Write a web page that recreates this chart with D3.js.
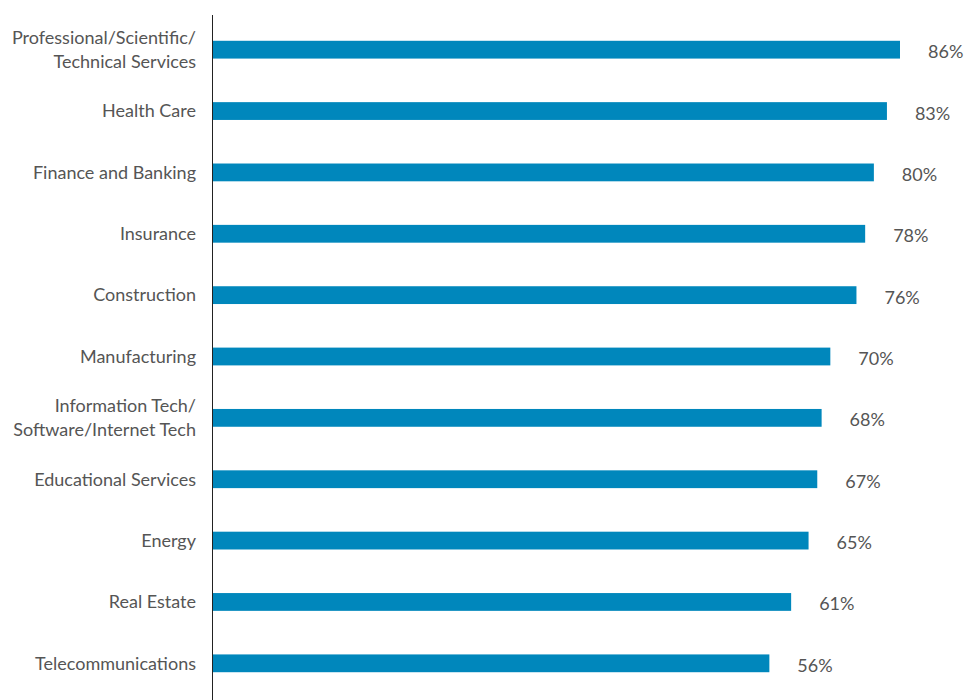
<!DOCTYPE html>
<html>
<head>
<meta charset="utf-8">
<script src="https://cdn.jsdelivr.net/npm/d3@7"></script>
<style>
  html, body { margin: 0; padding: 0; background: #fff; }
  svg { display: block; }
  text { font-family: Lato, "Open Sans", sans-serif; fill: #555; }
</style>
</head>
<body>
<svg id="chart" width="966" height="700"></svg>
<script>
// Share of respondents by industry
const industries = [
  ["Professional/Scientific/", "Technical Services"],
  ["Health Care"],
  ["Finance and Banking"],
  ["Insurance"],
  ["Construction"],
  ["Manufacturing"],
  ["Information Tech/", "Software/Internet Tech"],
  ["Educational Services"],
  ["Energy"],
  ["Real Estate"],
  ["Telecommunications"]
];
const shares = [86, 83, 80, 78, 76, 70, 68, 67, 65, 61, 56];
const valueLabels = ["86%", "83%", "80%", "78%", "76%", "70%", "68%", "67%", "65%", "61%", "56%"];

const svg = d3.select("#chart");
const axisX = 212;

const x = d3.scaleLinear().domain([-72, 86]).range([axisX, 900]);
const y = d3.scaleBand()
  .domain(d3.range(industries.length))
  .range([19, 694])
  .paddingInner(0.71)
  .paddingOuter(0.355);

// bars
svg.append("g").selectAll("rect")
  .data(shares)
  .join("rect")
  .attr("x", x(-72))
  .attr("y", (d, i) => y(i))
  .attr("width", d => x(d) - x(-72))
  .attr("height", y.bandwidth())
  .attr("fill", "#0087bc");

// vertical axis line
svg.append("line")
  .attr("x1", axisX + 0.5).attr("x2", axisX + 0.5)
  .attr("y1", 15).attr("y2", 700)
  .attr("stroke", "#222").attr("stroke-width", 1);

// category labels
const lineGap = 24.5;
const cats = svg.append("g").selectAll("text")
  .data(industries)
  .join("text")
  .attr("text-anchor", "end")
  .attr("font-size", 18)
  .attr("y", (d, i) => y(i) + y.bandwidth() / 2);
cats.selectAll("tspan")
  .data(d => d.map((t, j) => ({ t, j, n: d.length })))
  .join("tspan")
  .attr("x", 196)
  .attr("dy", d => d.j === 0 ? (0.35 * 18 - (d.n - 1) * lineGap / 2) : lineGap)
  .text(d => d.t);

// value labels
svg.append("g").selectAll("text")
  .data(shares)
  .join("text")
  .attr("x", d => x(d) + 28)
  .attr("y", (d, i) => y(i) + y.bandwidth() / 2 + 8.5)
  .attr("font-size", 18)
  .text((d, i) => valueLabels[i]);
</script>
</body>
</html>
